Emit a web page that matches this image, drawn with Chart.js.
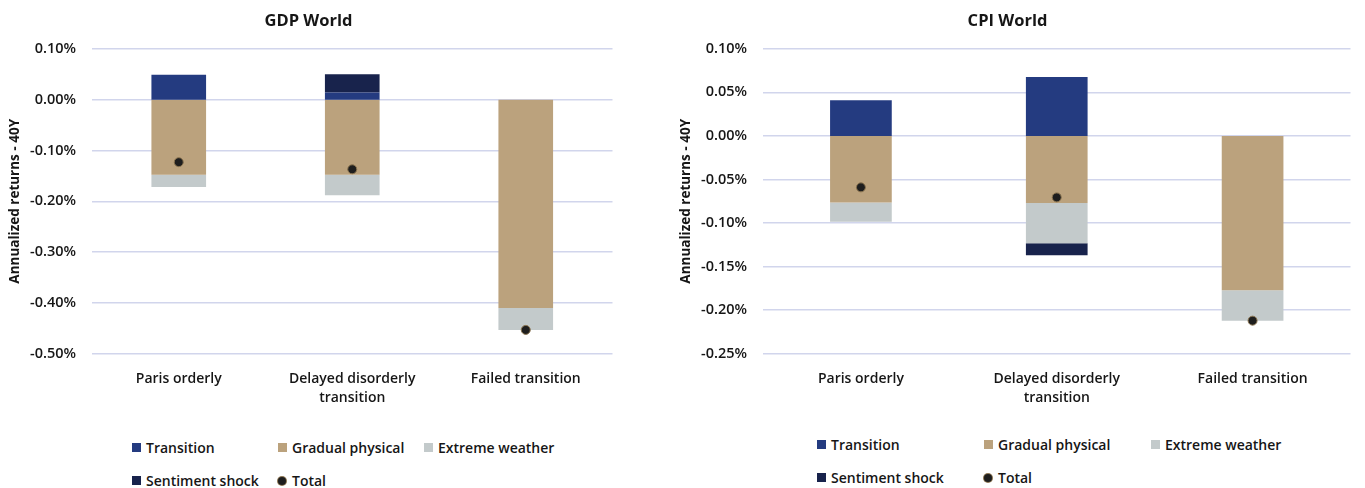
<!DOCTYPE html>
<html>
<head>
<meta charset="utf-8">
<script src="https://cdn.jsdelivr.net/npm/chart.js@4.4.1/dist/chart.umd.min.js"></script>
<style>
  body { margin: 0; background: #fff; font-family: "Open Sans", sans-serif; }
  #page { position: relative; width: 1365px; height: 488px; overflow: hidden; }
  .box { position: absolute; top: 0; height: 423px; }
  .legend { position: absolute; font-size: 14px; font-weight: 600; color: #161616; }
  .item { position: absolute; white-space: nowrap; line-height: 18px; }
  .sw { display: inline-block; width: 9px; height: 9px; margin-right: 5px; vertical-align: 1px; }
  .dot { display: inline-block; width: 8px; height: 8px; border-radius: 50%; margin-right: 6px; vertical-align: 1px; background: #1e1e1e; box-shadow: 0 0 0 1px #8a7450; }
</style>
</head>
<body>
<div id="page">
  <div class="box" style="left:0;width:618px"><canvas id="gdp"></canvas></div>
  <div class="box" style="left:660px;width:696px"><canvas id="cpi"></canvas></div>
  <div class="legend" id="legGdp"></div>
  <div class="legend" id="legCpi"></div>
</div>
<script>
const categories = ['Paris orderly', ['Delayed disorderly', 'transition'], 'Failed transition'];
const seriesNames = ['Transition', 'Gradual physical', 'Extreme weather', 'Sentiment shock', 'Total'];
const seriesColors = ['#243b80', '#bba27d', '#c3cacb', '#18234c', '#1e1e1e'];

// GDP World (annualized %, 40Y)
const gdpTransition = [0.049, 0.014, 0];
const gdpGradual = [-0.148, -0.148, -0.41];
const gdpExtreme = [-0.024, -0.040, -0.043];
const gdpSentiment = [0, 0.036, 0];
const gdpTotal = [-0.123, -0.137, -0.453];
const gdpTicks = { min: -0.5, max: 0.1, step: 0.1 };

// CPI World
const cpiTransition = [0.041, 0.0675, 0];
const cpiGradual = [-0.0765, -0.077, -0.177];
const cpiExtreme = [-0.022, -0.046, -0.035];
const cpiSentiment = [0, -0.014, 0];
const cpiTotal = [-0.059, -0.0705, -0.212];
const cpiTicks = { min: -0.25, max: 0.1, step: 0.05 };

const txt = '#161616';
const gridCol = '#d1d5ec';

function makeChart(id, title, parts, total, t, axisW, axisPad) {
  const bars = parts.map((d, i) => ({
    type: 'bar',
    label: seriesNames[i],
    data: d,
    backgroundColor: seriesColors[i],
    borderWidth: 0,
    barPercentage: 0.315,
    categoryPercentage: 1,
    stack: 'parts',
    order: 2
  }));
  bars.push({
    type: 'line',
    label: seriesNames[4],
    data: total,
    showLine: false,
    pointRadius: 4.5,
    pointBackgroundColor: seriesColors[4],
    pointBorderColor: '#8a7450',
    pointBorderWidth: 1,
    stack: 'total',
    order: 0
  });

  return new Chart(document.getElementById(id), {
    data: { labels: categories, datasets: bars },
    options: {
      responsive: true,
      maintainAspectRatio: false,
      animation: false,
      layout: { padding: { left: 0, right: 1, top: 0, bottom: 0 } },
      plugins: {
        legend: { display: false },
        tooltip: { enabled: false },
        title: {
          display: true,
          text: title,
          color: txt,
          font: { family: 'Open Sans', size: 16.5, weight: '700' },
          padding: { top: 11, bottom: 18 }
        }
      },
      scales: {
        x: {
          stacked: true,
          grid: { display: false, drawTicks: false },
          border: { display: false },
          ticks: {
            color: txt,
            padding: 15,
            font: { family: 'Open Sans', size: 14, weight: '600', lineHeight: 1.4 }
          }
        },
        y: {
          stacked: true,
          min: t.min,
          max: t.max,
          afterFit: s => { s.width = axisW; },
          grid: { color: gridCol, lineWidth: 1.6, drawTicks: false },
          border: { display: false },
          ticks: {
            stepSize: t.step,
            padding: 16,
            color: txt,
            font: { family: 'Open Sans', size: 14.5, weight: '600' },
            callback: v => (Math.abs(v) < 1e-9 ? 0 : v).toFixed(2) + '%'
          },
          title: {
            display: true,
            text: 'Annualized returns - 40Y',
            color: txt,
            padding: { top: axisPad, bottom: 0 },
            font: { family: 'Open Sans', size: 13.5, weight: '700' }
          }
        }
      }
    }
  });
}

makeChart('gdp', 'GDP World', [gdpTransition, gdpGradual, gdpExtreme, gdpSentiment], gdpTotal, gdpTicks, 92, 7);
makeChart('cpi', 'CPI World', [cpiTransition, cpiGradual, cpiExtreme, cpiSentiment], cpiTotal, cpiTicks, 103, 18);

// legend grids: three columns, two rows
function buildLegend(id, left, top, colW, rowH) {
  const el = document.getElementById(id);
  el.style.left = left + 'px';
  el.style.top = top + 'px';
  seriesNames.forEach((name, i) => {
    const d = document.createElement('div');
    d.className = 'item';
    const row = i < 3 ? 0 : 1;
    const col = i < 3 ? i : i - 3;
    d.style.left = (col * colW) + 'px';
    d.style.top = (row * rowH) + 'px';
    const mark = document.createElement('span');
    if (i === 4) {
      mark.className = 'dot';
    } else {
      mark.className = 'sw';
      mark.style.background = seriesColors[i];
    }
    d.appendChild(mark);
    d.appendChild(document.createTextNode(name));
    el.appendChild(d);
  });
}

buildLegend('legGdp', 132, 439, 146, 33);
buildLegend('legCpi', 817, 436, 167, 33);
</script>
</body>
</html>
